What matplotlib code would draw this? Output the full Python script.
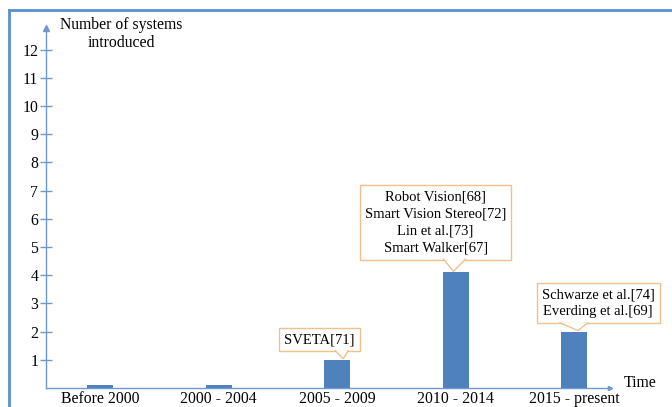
import matplotlib.pyplot as plt
from matplotlib.lines import Line2D
from matplotlib.patches import Polygon

# ------------------------------------------------------------
# Data
# ------------------------------------------------------------

periods = ["Before 2000", "2000 - 2004", "2005 - 2009", "2010 - 2014", "2015 - present"]
systems = [0.1, 0.1, 1, 4.1, 2]
y_ticks = list(range(1, 13))

notes = [
    "SVETA[71]",
    "Robot Vision[68]\nSmart Vision Stereo[72]\nLin et al.[73]\nSmart Walker[67]",
    "Schwarze et al.[74]\nEverding et al.[69]",
]
note_bar = [2, 3, 4]

# ------------------------------------------------------------
# Layout of the callouts (box centre in data units, tip shift,
# pointer base left/right offsets in pixels from the tip)
# ------------------------------------------------------------

note_xy = [(1.85, 1.72), (2.83, 5.87), (4.20, 3.01)]
note_tip_dx = [0.05, -0.02, 0.03]
note_base = [(-8, 5), (-10, 12), (-18, 10)]

# ------------------------------------------------------------
# Style
# ------------------------------------------------------------

plt.rcParams["font.family"] = ["Liberation Serif", "DejaVu Serif"]
bar_color = "#4F81BD"
axis_color = "#7098CC"
box_edge = "#F0C08E"

W, H = 672, 407
fig = plt.figure(figsize=(W / 100, H / 100), dpi=100)

# axes box in pixels
x0, x1 = 46, 610
y0, y1 = 388, 28
ax = fig.add_axes([x0 / W, (H - y0) / H, (x1 - x0) / W, (y0 - y1) / H])

ax.bar(range(len(periods)), systems, width=0.22, color=bar_color, zorder=2)

ax.set_xlim(-0.456, 4.30)
ax.set_ylim(0, 12.77)

ax.set_xticks(range(len(periods)))
ax.set_xticklabels(periods, fontsize=11.3)
ax.tick_params(axis="x", length=0, pad=2)

ax.set_yticks(y_ticks)
ax.set_yticklabels([str(v) for v in y_ticks], fontsize=11.3)
ax.tick_params(axis="y", direction="inout", length=9, width=1,
               color=axis_color, pad=1)

for s in ["top", "right"]:
    ax.spines[s].set_visible(False)
for s in ["left", "bottom"]:
    ax.spines[s].set_color(axis_color)
    ax.spines[s].set_linewidth(1)

# arrow heads on the axes
ax.plot(0, 1, marker="^", markersize=4, color=axis_color,
        transform=ax.transAxes, clip_on=False)
ax.plot(1, 0, marker=">", markersize=3, color=axis_color,
        transform=ax.transAxes, clip_on=False)

# callout boxes
boxes = []
for txt, (tx, ty) in zip(notes, note_xy):
    t = ax.text(tx, ty, txt, ha="center", va="center", fontsize=10.5,
                linespacing=1.4, zorder=3,
                bbox=dict(boxstyle="square,pad=0.35", fc="white",
                          ec=box_edge, lw=1))
    boxes.append(t)

fig.canvas.draw()
inv = ax.transData.inverted()

# callout pointers: triangle from box bottom edge to bar top
for t, b, dx, (bl, br) in zip(boxes, note_bar, note_tip_dx, note_base):
    ext = t.get_bbox_patch().get_window_extent()
    tip = ax.transData.transform((b + dx, systems[b]))
    pts_px = [(tip[0] + bl, ext.y0 + 0.5), (tip[0], tip[1] + 1),
              (tip[0] + br, ext.y0 + 0.5)]
    pts = inv.transform(pts_px)
    ax.add_patch(Polygon(pts, closed=True, fc="white", ec="none", zorder=4))
    ax.plot(pts[:, 0], pts[:, 1], color=box_edge, lw=1, zorder=5,
            solid_joinstyle="miter")

# axis titles
fig.text(121 / W, 1 - 17 / H, "Number of systems\nintroduced",
         ha="center", va="top", fontsize=11.3, linespacing=1.2)
fig.text(640 / W, 1 - 383 / H, "Time", ha="center", va="center", fontsize=11.3)

# outer frame (top and left edges visible)
fig.add_artist(Line2D([9 / W, 1], [1 - 10 / H, 1 - 10 / H],
                      transform=fig.transFigure, color="#5B8FD0", lw=2))
fig.add_artist(Line2D([9 / W, 9 / W], [0, 1 - 10 / H],
                      transform=fig.transFigure, color="#5B8FD0", lw=2))

fig.savefig("out.png", dpi=100)
